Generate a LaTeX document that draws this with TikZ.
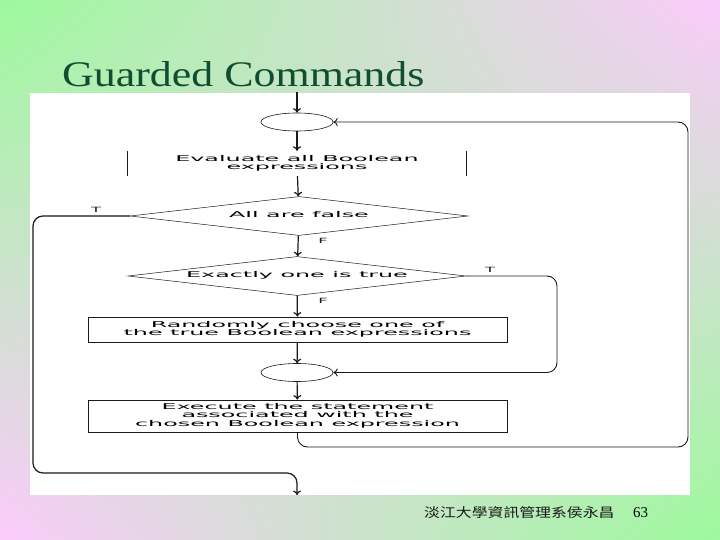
\documentclass[tikz,border=0pt]{standalone}
\usepackage{graphicx}
\usepackage{fontspec}
\setmainfont{Liberation Serif}
\newfontfamily\flowfont{DejaVu Sans}
\newfontfamily\cjkfont{Noto Sans CJK TC}
\usetikzlibrary{shapes.geometric, arrows.meta, positioning, calc, shadings}
\definecolor{SlideGreen}{HTML}{9CFA9C}
\definecolor{SlidePink}{HTML}{FBCBFB}
\definecolor{TitleGreen}{HTML}{0F4F2F}
\definecolor{FlowBlack}{HTML}{1A1A1A}
% wide, flattened lettering of the flowchart
\newcommand{\flowtext}[1]{\scalebox{2.38}[0.8]{\flowfont\fontsize{10}{10}\selectfont\begin{tabular}{@{}c@{}}#1\end{tabular}}}
\newcommand{\branchtext}[1]{\scalebox{1.8}[0.8]{\flowfont\fontsize{9}{9}\selectfont #1}}
\tikzset{
    % shapes
    terminal/.style={
        ellipse,
        draw=FlowBlack,
        fill=white,
        line width=0.6pt,
        minimum width=72pt,
        minimum height=18pt,
        inner sep=0pt
    },
    decision/.style={
        diamond,
        draw=FlowBlack,
        line width=0.5pt,
        aspect=8,
        minimum width=338pt,
        minimum height=39pt,
        inner sep=0pt
    },
    process/.style={
        rectangle,
        draw=FlowBlack,
        line width=0.8pt,
        minimum width=419pt,
        inner sep=0pt
    },
    branch label/.style={
        inner sep=0pt,
        text=FlowBlack
    },
    % connectors
    flow arrow/.style={
        -{To[length=4.5pt,width=8pt]},
        line width=1.2pt,
        FlowBlack
    },
    loop line/.style={
        line width=0.9pt,
        rounded corners=10pt,
        FlowBlack
    }
}

\begin{document}
\begin{tikzpicture}[x=1pt, y=-1pt]
        % Slide background and panel
        \shade[upper left=SlideGreen, upper right=SlidePink, lower left=SlidePink, lower right=SlideGreen] (0,0) rectangle (720,540);
        \fill[white] (30,93) rectangle (690,495);
        \node[anchor=base west, inner sep=0pt, text=TitleGreen, font=\fontsize{36}{36}\selectfont] (title) at (62,87) {\scalebox{1.22}[1]{Guarded Commands}};

        % Rails for the loops
        \coordinate (start) at (297,92);
        \coordinate (finish) at (297,495);
        \coordinate (leftrail) at (33,0);
        \coordinate (midrail) at (557,0);
        \coordinate (rightrail) at (688,0);
        \coordinate (exitrow) at (0,473);
        \coordinate (backrow) at (0,447);

        % Flowchart
        \node[terminal] (entry) at (297,122) {};
        \node[minimum width=338pt, minimum height=25pt, inner sep=0pt] (evaluate) at (297,163.5) {\flowtext{Evaluate all Boolean\\expressions}};
        \draw[line width=1.1pt, FlowBlack] (evaluate.north west) -- (evaluate.south west);
        \draw[line width=1.1pt, FlowBlack] (evaluate.north east) -- (evaluate.south east);
        \node[decision] (allfalse) at (299,216) {\flowtext{All are false}};
        \node[decision] (onetrue) at (297,276) {\flowtext{Exactly one is true}};
        \node[process, minimum height=25pt] (choose) at (297.5,329.5) {\flowtext{Randomly choose one of\\the true Boolean expressions}};
        \node[terminal] (merge) at (297,372.5) {};
        \node[process, minimum height=32pt] (execute) at (297.5,416) {\flowtext{Execute the statement\\associated with the\\chosen Boolean expression}};

        % Branch labels
        \node[branch label] (falseone) at (323,241) {\branchtext{F}};
        \node[branch label] (falsetwo) at (323,301) {\branchtext{F}};
        \node[branch label] (trueone) at (96,210) {\branchtext{T}};
        \node[branch label] (truetwo) at (490,270) {\branchtext{T}};

        % Straight connectors
        \draw[flow arrow] (start) -- (entry);
        \draw[flow arrow] (entry) -- (evaluate);
        \draw[flow arrow] (evaluate) -- (allfalse);
        \draw[flow arrow] (allfalse) -- (onetrue);
        \draw[flow arrow] (onetrue) -- (choose);
        \draw[flow arrow] (choose) -- (merge);
        \draw[flow arrow] (merge) -- (execute);

        % Loops
        \draw[loop line, flow arrow] (allfalse.west) -| (leftrail |- exitrow) -| (finish);
        \draw[loop line, flow arrow, line width=0.9pt] (onetrue.east) -| (midrail |- merge) -- (merge.east);
        \draw[loop line, flow arrow, line width=0.9pt] (execute.south) |- (rightrail |- backrow) |- (entry.east);

        % Footer
        \node[anchor=base west, inner sep=0pt, text=FlowBlack] (footer) at (424,517) {\scalebox{1.22}[1]{\cjkfont\fontsize{13}{13}\selectfont 淡江大學資訊管理系侯永昌}};
        \node[anchor=base west, inner sep=0pt, font=\fontsize{15}{15}\selectfont] (pagenum) at (633,517) {63};
    \end{tikzpicture}
\end{document}
